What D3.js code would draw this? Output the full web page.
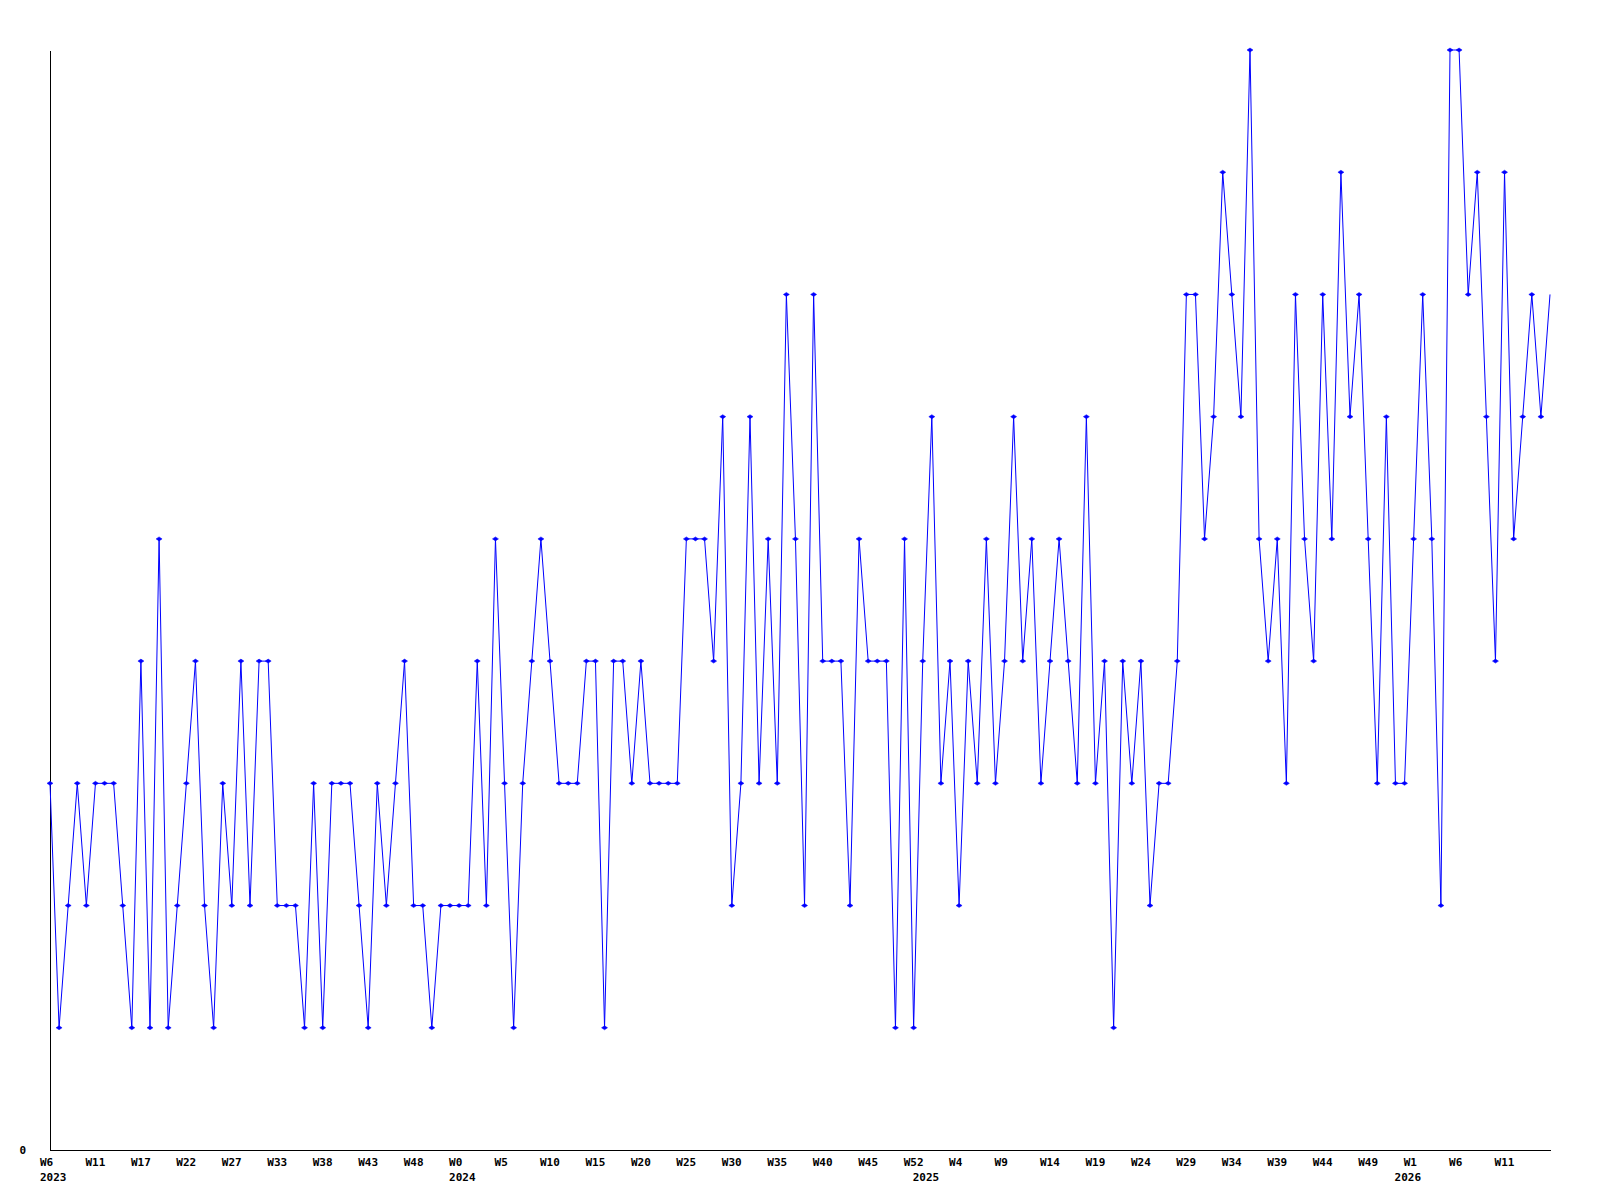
<!DOCTYPE html>
<html>
<head>
<meta charset="utf-8">
<script src="https://cdn.jsdelivr.net/npm/d3@7"></script>
<style>
  body { margin: 0; background: #fff; }
  text { font-family: "DejaVu Sans Mono", monospace; font-weight: bold; font-size: 11px; fill: #000; }
</style>
</head>
<body>
<script>
// weekly counts, one per point
const values = [
  3,1,2,3,2,3,3,3,2,1,4,1,5,1,2,3,4,2,1,3,2,4,
  2,4,4,2,2,2,1,3,1,3,3,3,2,1,3,2,3,4,2,2,1,
  2,2,2,2,4,2,5,3,1,3,4,5,4,3,3,3,4,4,1,4,4,
  3,4,3,3,3,3,5,5,5,4,6,2,3,6,3,5,3,7,5,2,7,
  4,4,4,2,5,4,4,4,1,5,1,4,6,3,4,2,4,3,5,3,4,
  6,4,5,3,4,5,4,3,6,3,4,1,4,3,4,2,3,3,4,7,
  7,5,6,8,7,6,9,5,4,5,3,7,5,4,7,5,8,6,7,5,
  3,6,3,3,5,7,5,2,9,9,7,8,6,4,8,5,6,7,6,7
];
const weekLabels = ["W6","W11","W17","W22","W27","W33","W38","W43","W48","W0","W5","W10",
  "W15","W20","W25","W30","W35","W40","W45","W52","W4","W9","W14","W19","W24","W29",
  "W34","W39","W44","W49","W1","W6","W11"];
const weekLabelIdx = weekLabels.map((d, i) => i * 5);
const yearLabels = ["2023","2024","2025","2026"];
const yearLabelIdx = [0, 45, 96, 149];
const yMax = 9;

const margin = { top: 50, bottom: 50, left: 50, right: 50 };
const width = 1600, height = 1200;

const svg = d3.select("body").append("svg").attr("width", width).attr("height", height);

const x = d3.scaleLinear().domain([0, values.length - 1]).range([margin.left, width - margin.right]);
const y = d3.scaleLinear().domain([0, yMax]).range([height - margin.bottom, margin.top]);

// x axis with week labels
const xAxis = d3.axisBottom(x)
  .tickValues(weekLabelIdx)
  .tickFormat((d, i) => weekLabels[i])
  .tickSizeInner(0).tickSizeOuter(0);
const gx = svg.append("g").attr("transform", `translate(0,${y(0)})`).call(xAxis);
gx.select(".domain").attr("stroke", "#000").attr("shape-rendering", "crispEdges");
gx.selectAll("text").attr("text-anchor", "start").attr("x", -10.5).attr("y", 16).attr("dy", null);
gx.attr("font-family", null).attr("font-size", null);

// year row
const yearAxis = d3.axisBottom(x)
  .tickValues(yearLabelIdx)
  .tickFormat((d, i) => yearLabels[i])
  .tickSize(0);
const gyr = svg.append("g").attr("transform", `translate(0,${y(0)})`).call(yearAxis);
gyr.select(".domain").remove();
gyr.selectAll("text").attr("text-anchor", "start").attr("x", -10.5).attr("y", 31).attr("dy", null);
gyr.attr("font-family", null).attr("font-size", null);

// y axis, only 0 labelled
const yAxis = d3.axisLeft(y).tickValues([0]).tickFormat(d3.format("d")).tickSizeInner(0).tickSizeOuter(0).tickPadding(24);
const gy = svg.append("g").attr("transform", `translate(${margin.left},0)`).call(yAxis);
gy.select(".domain").attr("stroke", "#000").attr("shape-rendering", "crispEdges");
gy.selectAll("text").attr("dy", "0.35em");
gy.attr("font-family", null).attr("font-size", null);

// series line
const line = d3.line().x((d, i) => x(i)).y(d => y(d));
svg.append("path").datum(values)
  .attr("d", line)
  .attr("fill", "none")
  .attr("stroke", "#0000ff")
  .attr("stroke-width", 1);

// point markers (last one sits on the frame edge and isn't drawn)
svg.append("g").selectAll("path")
  .data(values.slice(0, -1))
  .enter().append("path")
  .attr("transform", (d, i) => `translate(${x(i)},${y(d)})`)
  .attr("d", "M-3,0L0,-2L3,0L0,2Z")
  .attr("fill", "#0000ff")
  .attr("stroke", "#0000ff")
  .attr("stroke-width", 0.5);
</script>
</body>
</html>
